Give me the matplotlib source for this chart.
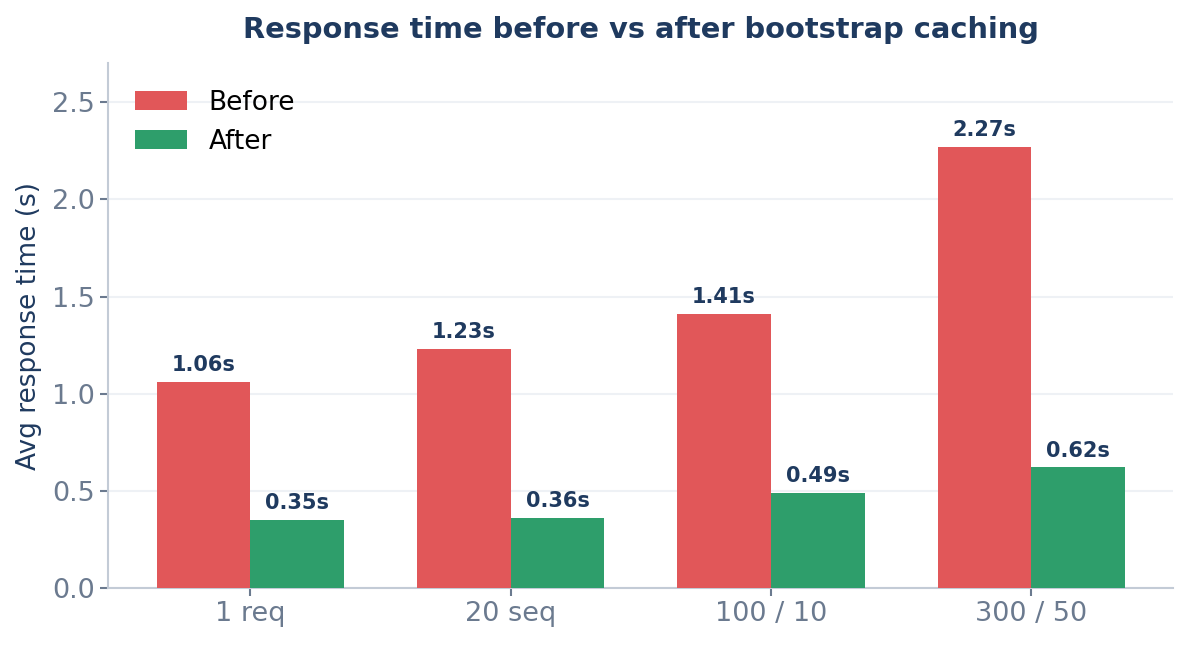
import numpy as np
from matplotlib import pyplot as plt

scenarios = ["1 req", "20 seq", "100 / 10", "300 / 50"]
before = [1.06, 1.23, 1.41, 2.27]
after = [0.35, 0.36, 0.49, 0.62]

navy = "#1f3a5f"
grey = "#6b7a8f"
spine = "#c3cbd6"

fig, ax = plt.subplots(figsize=(11.9, 6.46), dpi=100)
x = np.arange(len(scenarios))
w = 0.36

b1 = ax.bar(x - w / 2, before, w, color="#e15759", label="Before", zorder=3)
b2 = ax.bar(x + w / 2, after, w, color="#2e9e6b", label="After", zorder=3)

for bars in (b1, b2):
    for bar in bars:
        h = bar.get_height()
        ax.annotate(f"{h:.2f}s", (bar.get_x() + bar.get_width() / 2, h),
                    xytext=(0, 5), textcoords="offset points",
                    ha="center", va="bottom", fontsize=15, fontweight="bold", color=navy)

ax.set_xticks(x)
ax.set_xticklabels(scenarios)
ax.set_ylim(0, max(before) * 1.19)
ax.set_title("Response time before vs after bootstrap caching", fontsize=20.8,
             fontweight="bold", color=navy, pad=18)
ax.set_ylabel("Avg response time (s)", fontsize=19, color=navy, labelpad=7.5)
ax.tick_params(axis="both", labelsize=19.5, colors=grey, length=6, width=1.5)
ax.yaxis.grid(True, color="#eef1f5", linewidth=1.5, zorder=0)
ax.set_axisbelow(True)
for s in ("top", "right"):
    ax.spines[s].set_visible(False)
for s in ("left", "bottom"):
    ax.spines[s].set_color(spine)
    ax.spines[s].set_linewidth(1.5)

ax.legend(frameon=False, fontsize=19, loc="upper left", handlelength=2.0,
          handleheight=0.7, borderaxespad=0.6)

plt.subplots_adjust(left=0.091, right=0.986, bottom=0.09, top=0.902)
plt.savefig("out.png")
